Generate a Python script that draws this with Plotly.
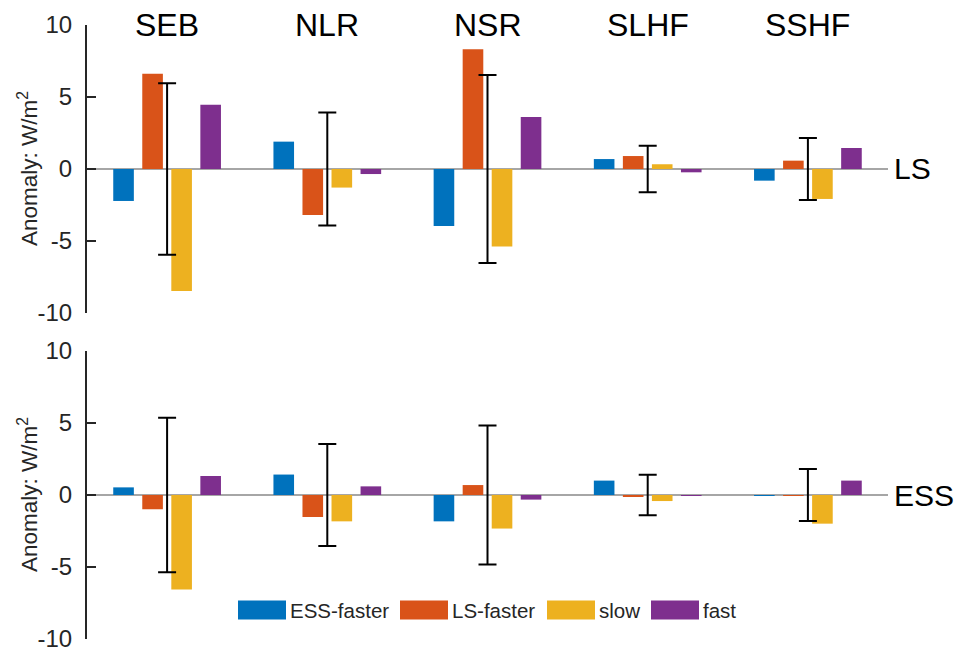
import plotly.graph_objects as go

# ---------------- data ----------------
groups = ["SEB", "NLR", "NSR", "SLHF", "SSHF"]
series_names = ["ESS-faster", "LS-faster", "slow", "fast"]

ls_ess_faster = [-2.22, 1.90, -3.96, 0.69, -0.81]
ls_ls_faster = [6.62, -3.19, 8.31, 0.90, 0.58]
ls_slow = [-8.47, -1.29, -5.39, 0.33, -2.08]
ls_fast = [4.47, -0.35, 3.61, -0.23, 1.46]
ls_err = [5.96, 3.92, 6.53, 1.62, 2.15]

ess_ess_faster = [0.53, 1.42, -1.83, 1.00, -0.05]
ess_ls_faster = [-0.99, -1.53, 0.69, -0.14, -0.03]
ess_slow = [-6.57, -1.83, -2.33, -0.42, -1.99]
ess_fast = [1.32, 0.60, -0.32, -0.03, 1.00]
ess_err = [5.36, 3.55, 4.82, 1.40, 1.81]

panel_labels = ["LS", "ESS"]
y_tickvals = [-10, -5, 0, 5, 10]
y_ticktext = ["-10", "-5", "0", "5", "10"]

# ---------------- style ----------------
colors = ["#0072BD", "#D95319", "#EDB120", "#7E2F8E"]
FONT = "Liberation Sans, Arial, Helvetica, sans-serif"
AX = "#262626"
OFF = 8  # page body margin in the browser
W, H = 962 - OFF, 649 - OFF


def px_x(p):
    return (p - OFF) / W


def px_y(p):
    return 1 - (p - OFF) / H


panels = [
    dict(vals=[ls_ess_faster, ls_ls_faster, ls_slow, ls_fast], err=ls_err, xa="x", ya="y"),
    dict(vals=[ess_ess_faster, ess_ls_faster, ess_slow, ess_fast], err=ess_err, xa="x2", ya="y2"),
]

fig = go.Figure()
for p in panels:
    for name, vals, col in zip(series_names, p["vals"], colors):
        fig.add_trace(go.Bar(
            x=groups, y=vals, name=name, marker_color=col,
            marker_line_width=0, xaxis=p["xa"], yaxis=p["ya"], showlegend=False,
        ))
    fig.add_trace(go.Scatter(
        x=groups, y=[0] * len(groups), mode="markers",
        marker=dict(size=1, color="rgba(0,0,0,0)"),
        error_y=dict(type="data", array=p["err"], symmetric=True,
                     color="black", thickness=2, width=9),
        xaxis=p["xa"], yaxis=p["ya"], showlegend=False, hoverinfo="skip",
    ))

x_dom = [px_x(87), px_x(888)]
top_dom = [px_y(313), px_y(25)]
bot_dom = [px_y(639), px_y(351)]

xcommon = dict(domain=x_dom, range=[-0.5, 4.5], showticklabels=False, showline=False,
               showgrid=False, zeroline=False, ticks="", type="category", automargin=False)
ycommon = dict(range=[-10, 10], tickvals=y_tickvals, ticktext=y_ticktext,
               showline=True, linecolor=AX, linewidth=2, ticks="inside", ticklen=9,
               tickwidth=2, tickcolor=AX, showgrid=False, zeroline=True,
               zerolinecolor="#a6a6a6", zerolinewidth=1.5,
               tickfont=dict(family=FONT, size=24, color=AX),
               ticklabelstandoff=8, ticklabeloverflow="allow", automargin=False)

fig.update_layout(
    width=W, height=H,
    margin=dict(l=0, r=0, t=0, b=0),
    paper_bgcolor="white", plot_bgcolor="white",
    barmode="group", bargap=0.275, bargroupgap=0.29,
    xaxis=dict(xcommon, anchor="y"),
    yaxis=dict(ycommon, domain=top_dom, anchor="x"),
    xaxis2=dict(xcommon, anchor="y2"),
    yaxis2=dict(ycommon, domain=bot_dom, anchor="x2"),
    showlegend=False,
    font=dict(family=FONT),
)

annotations = []
# group names above the top panel
for g in groups:
    annotations.append(dict(x=g, y=10, xref="x", yref="y", text=g, showarrow=False,
                            yanchor="middle", xanchor="center",
                            font=dict(family=FONT, size=32, color="black")))
# panel labels on right
for lab, ya, xa in zip(panel_labels, ["y", "y2"], ["x", "x2"]):
    annotations.append(dict(x=1, y=0, xref=xa + " domain", yref=ya, text=lab, showarrow=False,
                            xanchor="left", yanchor="middle", xshift=4,
                            font=dict(family=FONT, size=30, color="black")))
# y-axis titles
for dom in [top_dom, bot_dom]:
    annotations.append(dict(x=px_x(28), y=(dom[0] + dom[1]) / 2, xref="paper", yref="paper",
                            text="Anomaly: W/m<sup>2</sup>", textangle=-90, showarrow=False,
                            xanchor="center", yanchor="middle",
                            font=dict(family=FONT, size=22.5, color=AX)))

# custom legend (large swatches like the original)
legend_left_px = [238, 400, 547, 651]
sw_w, sw_h, leg_cy = 48, 19, 610
shapes = []
for name, col, lx in zip(series_names, colors, legend_left_px):
    shapes.append(dict(type="rect", xref="paper", yref="paper",
                       x0=px_x(lx), x1=px_x(lx + sw_w),
                       y0=px_y(leg_cy + sw_h / 2), y1=px_y(leg_cy - sw_h / 2),
                       fillcolor=col, line=dict(width=0)))
    annotations.append(dict(x=px_x(lx + sw_w + 2), y=px_y(leg_cy), xref="paper", yref="paper",
                            text=name, showarrow=False, xanchor="left", yanchor="middle",
                            font=dict(family=FONT, size=20.5, color=AX)))

fig.update_layout(annotations=annotations, shapes=shapes)
fig.write_html("out.html")
